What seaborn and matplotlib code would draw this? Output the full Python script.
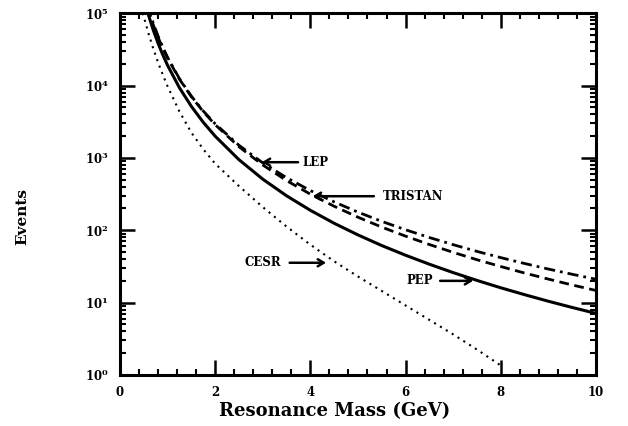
import numpy as np
import pandas as pd
import matplotlib
matplotlib.use("Agg")
import matplotlib.pyplot as plt
import seaborn as sns
from matplotlib.ticker import MultipleLocator, LogLocator, FixedLocator, NullFormatter

# ---- data (x = resonance mass in GeV, y = log10(events)) ----
pep_x = [0.55, 0.6, 0.7, 0.8, 0.9, 1.0, 1.25, 1.5, 1.75, 2.0, 2.5, 3.0, 3.5, 4.0, 4.5,
         5.0, 5.5, 6.0, 6.5, 7.0, 7.5, 8.0, 8.5, 9.0, 9.5, 10.0]
pep_log = [5.089, 4.973, 4.767, 4.586, 4.425, 4.280, 3.969, 3.712, 3.492, 3.300, 2.975,
           2.706, 2.476, 2.275, 2.096, 1.935, 1.788, 1.654, 1.530, 1.414, 1.306, 1.204,
           1.109, 1.018, 0.932, 0.850]

cesr_x = [0.48, 0.6, 0.7, 0.8, 0.9, 1.0, 1.25, 1.5, 1.75, 2.0, 2.5, 3.0, 3.5, 4.0, 4.5,
          5.0, 5.5, 6.0, 6.5, 7.0, 7.5, 8.0]
cesr_log = [5.0, 4.72, 4.51, 4.32, 4.15, 3.99, 3.64, 3.35, 3.12, 2.92, 2.61, 2.32, 2.05,
            1.80, 1.57, 1.36, 1.16, 0.96, 0.76, 0.56, 0.35, 0.13]

tristan_x = [0.58, 0.6, 0.7, 0.8, 0.9, 1.0, 1.25, 1.5, 1.75, 2.0, 2.5, 3.0, 3.5, 4.0, 4.5,
             5.0, 5.5, 6.0, 6.5, 7.0, 7.5, 8.0, 8.5, 9.0, 9.5, 10.0]
tristan_log = [5.076, 5.033, 4.838, 4.668, 4.516, 4.380, 4.088, 3.846, 3.640, 3.459, 3.154,
               2.902, 2.686, 2.498, 2.331, 2.180, 2.043, 1.918, 1.802, 1.694, 1.592, 1.498,
               1.408, 1.324, 1.243, 1.167]

lep_x = [0.58, 0.6, 0.7, 0.8, 0.9, 1.0, 1.25, 1.5, 1.75, 2.0, 2.5, 3.0, 3.5, 4.0, 4.5,
         5.0, 5.5, 6.0, 6.5, 7.0, 7.5, 8.0, 8.5, 9.0, 9.5, 10.0]
lep_log = [5.110, 5.065, 4.862, 4.685, 4.530, 4.390, 4.094, 3.853, 3.648, 3.471, 3.174,
           2.931, 2.726, 2.548, 2.391, 2.250, 2.122, 2.006, 1.899, 1.800, 1.707, 1.621,
           1.540, 1.463, 1.391, 1.322]

x_ticks = [0, 2, 4, 6, 8, 10]
y_ticks = [1, 10, 100, 1000, 10000, 100000]
y_tick_labels = ["10$^0$", "10$^1$", "10$^2$", "10$^3$", "10$^4$", "10$^5$"]

sns.set_theme(style="ticks")
plt.rcParams['font.family'] = ['DejaVu Serif']
plt.rcParams['mathtext.fontset'] = 'dejavuserif'
plt.rcParams['mathtext.default'] = 'bf'
plt.rcParams['text.color'] = 'black'
plt.rcParams['axes.labelcolor'] = 'black'
plt.rcParams['xtick.color'] = 'black'
plt.rcParams['ytick.color'] = 'black'

fig = plt.figure(figsize=(6.28, 4.26), dpi=100)
ax = fig.add_axes([0.191, 0.120, 0.758, 0.849])

def frame(xs, logs, name):
    return pd.DataFrame({"mass": xs, "events": np.power(10.0, logs), "exp": name})

df_pep = frame(pep_x, pep_log, "PEP")
df_cesr = frame(cesr_x, cesr_log, "CESR")
df_tri = frame(tristan_x, tristan_log, "TRISTAN")
df_lep = frame(lep_x, lep_log, "LEP")

sns.lineplot(data=df_pep, x="mass", y="events", ax=ax, color="black", lw=2.2)
sns.lineplot(data=df_cesr, x="mass", y="events", ax=ax, color="black", lw=1.5,
             linestyle=(0, (1, 2.3)))
sns.lineplot(data=df_tri, x="mass", y="events", ax=ax, color="black", lw=2.0,
             linestyle=(0, (3.5, 2)))
sns.lineplot(data=df_lep, x="mass", y="events", ax=ax, color="black", lw=2.0,
             linestyle=(0, (4, 1.8, 1, 1.8)))

ax.set_yscale("log")
ax.set_xlim(0, 10)
ax.set_ylim(1, 1e5)

ax.xaxis.set_major_locator(FixedLocator(x_ticks))
ax.xaxis.set_minor_locator(MultipleLocator(0.4))
ax.set_xticks(x_ticks)
ax.set_xticklabels([str(v) for v in x_ticks])
ax.yaxis.set_major_locator(FixedLocator(y_ticks))
ax.set_yticks(y_ticks)
ax.set_yticklabels(y_tick_labels)
ax.yaxis.set_minor_locator(LogLocator(base=10, subs=np.arange(2, 10), numticks=20))
ax.yaxis.set_minor_formatter(NullFormatter())

ax.tick_params(which="both", direction="in", top=True, right=True, colors="black")
ax.tick_params(which="major", length=11, width=1.8, labelsize=8.5, pad=8)
ax.tick_params(which="minor", length=4.5, width=1.5)
for lab in ax.get_xticklabels() + ax.get_yticklabels():
    lab.set_fontweight("bold")
    lab.set_color("black")
for sp in ax.spines.values():
    sp.set_linewidth(2.2)
    sp.set_color("black")

ax.set_xlabel("Resonance Mass (GeV)", fontsize=13, fontweight="bold", color="black")
ax.xaxis.set_label_coords(0.45, -0.075)
ax.set_ylabel("Events", fontsize=11, fontweight="bold", color="black")
ax.yaxis.set_label_coords(-0.19, 0.438)

arrow = dict(arrowstyle="->,head_length=0.5,head_width=0.3", color="black", lw=1.8)
ax.annotate("LEP", xy=(2.98, 10**2.94), xytext=(3.84, 10**2.94), color="black",
            fontsize=8.5, fontweight="bold", va="center", ha="left",
            arrowprops=dict(arrow, shrinkA=1, shrinkB=0))
ax.annotate("TRISTAN", xy=(4.05, 10**2.47), xytext=(5.52, 10**2.47), color="black",
            fontsize=8.5, fontweight="bold", va="center", ha="left",
            arrowprops=dict(arrow, shrinkA=4, shrinkB=0))
ax.annotate("CESR", xy=(4.33, 10**1.55), xytext=(3.38, 10**1.55), color="black",
            fontsize=8.5, fontweight="bold", va="center", ha="right",
            arrowprops=dict(arrow, shrinkA=4, shrinkB=0))
ax.annotate("PEP", xy=(7.42, 10**1.30), xytext=(6.57, 10**1.30), color="black",
            fontsize=8.5, fontweight="bold", va="center", ha="right",
            arrowprops=dict(arrow, shrinkA=3, shrinkB=0))

fig.savefig("out.png", dpi=100, facecolor="white")
